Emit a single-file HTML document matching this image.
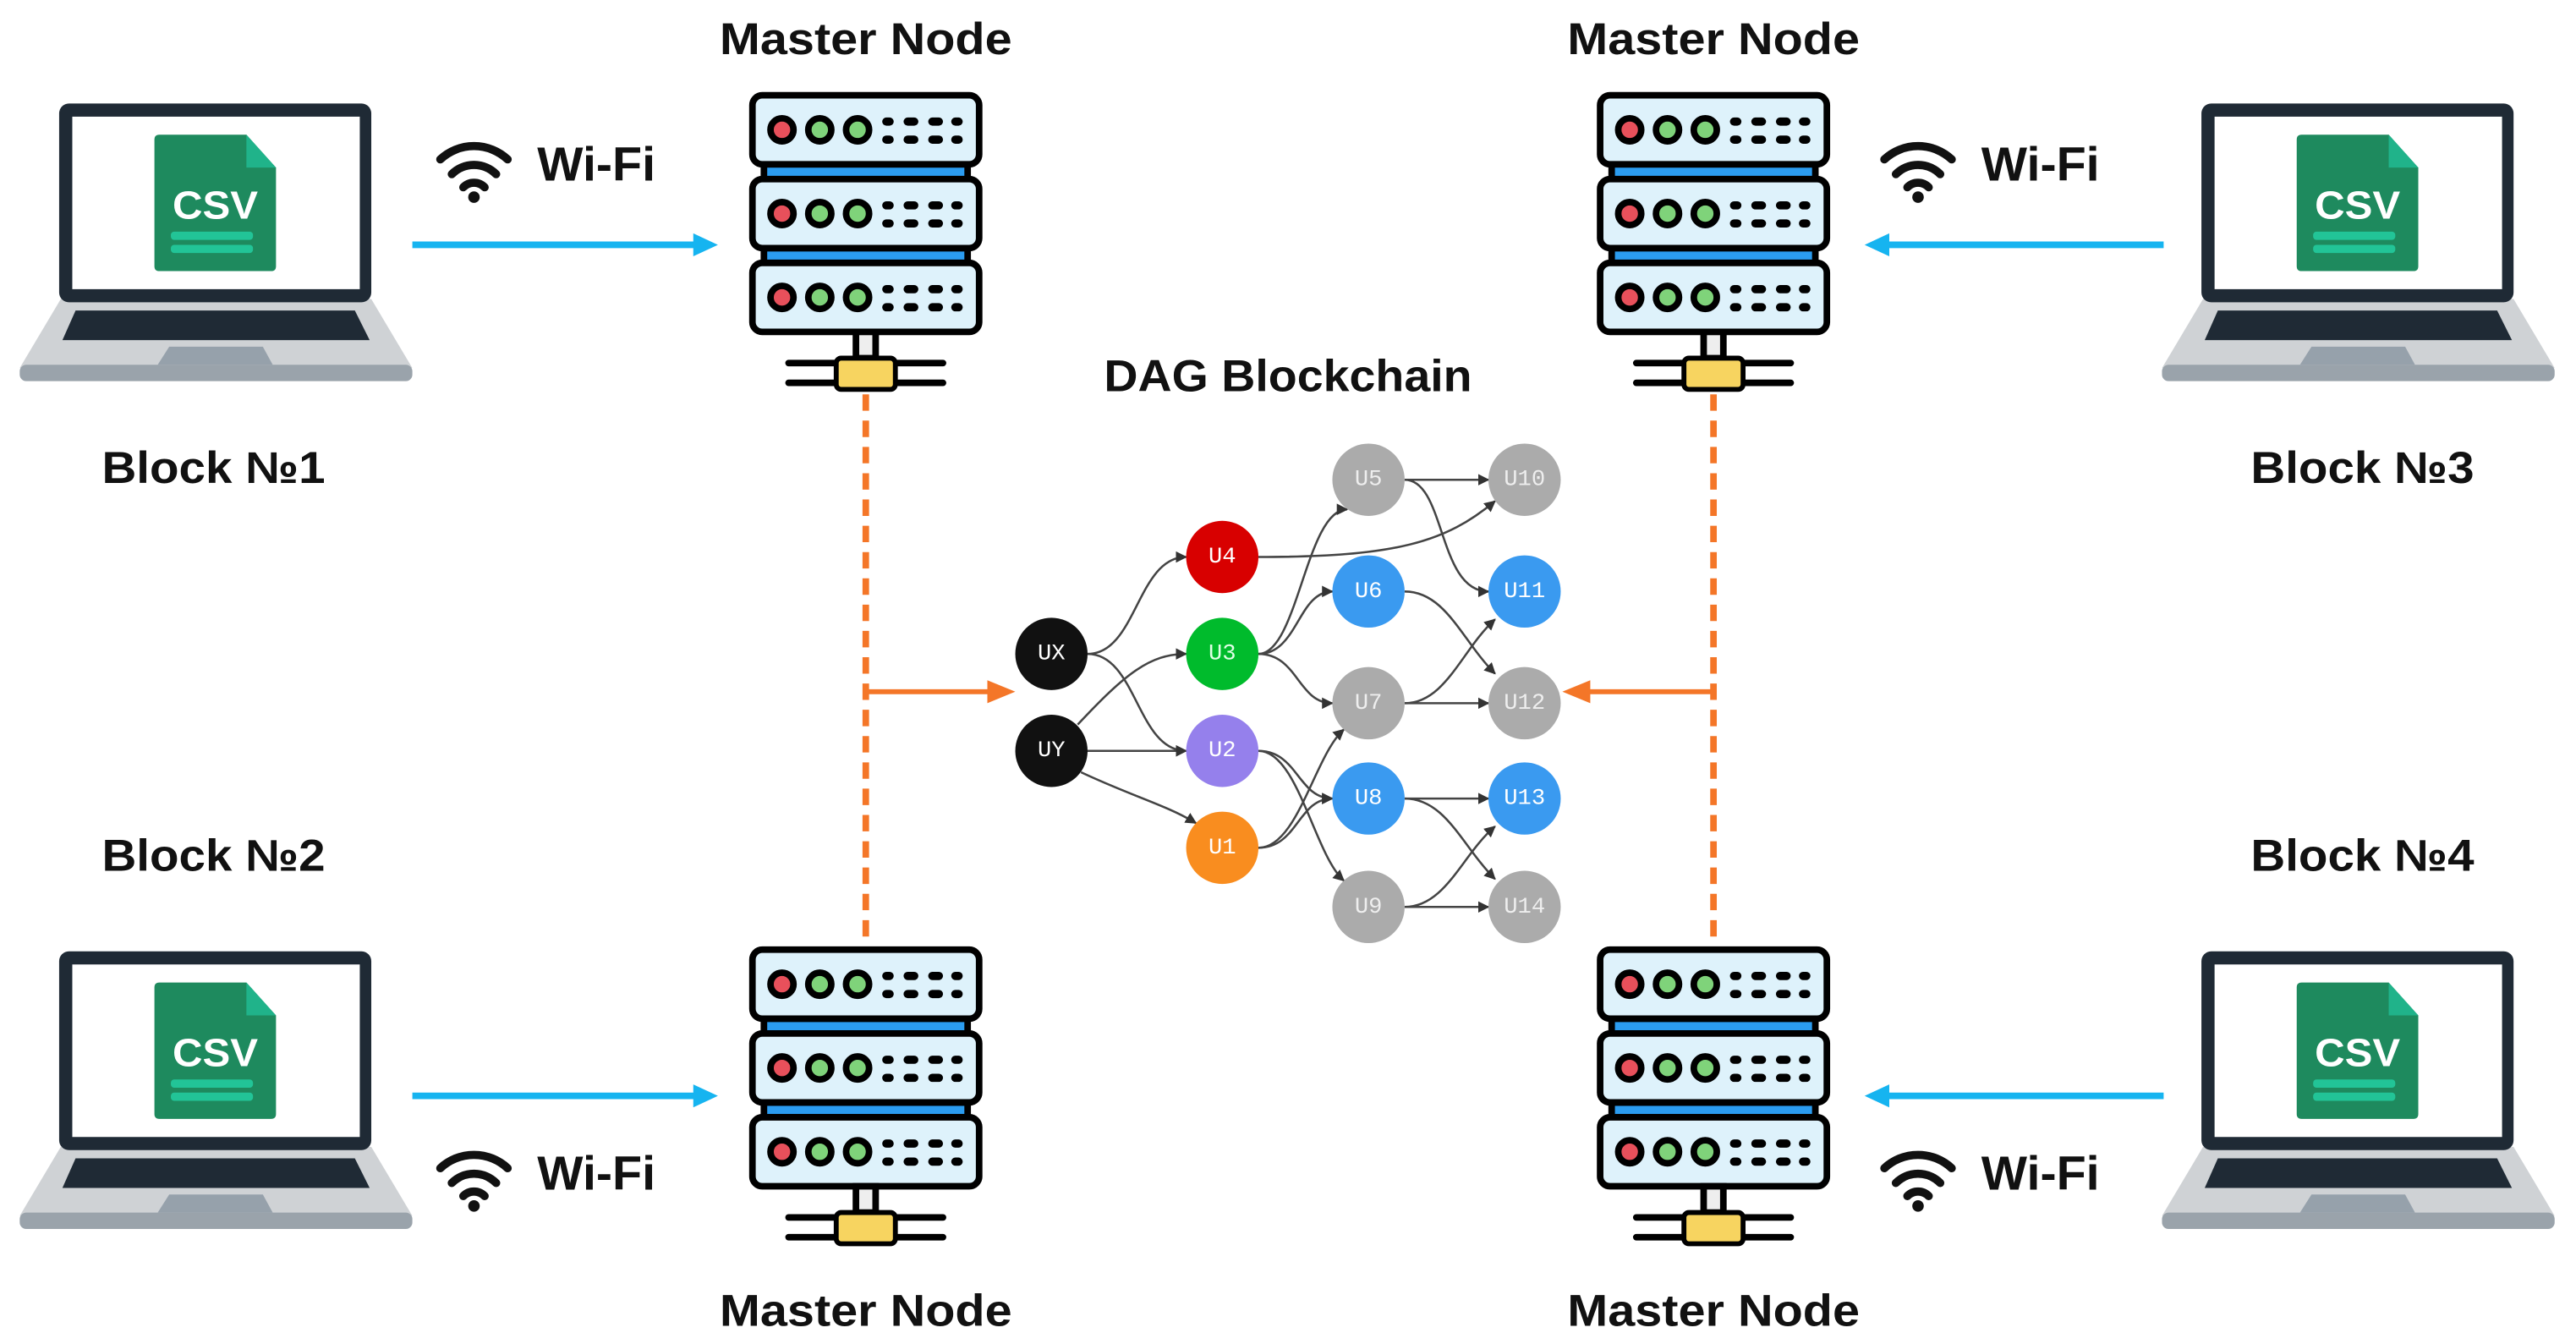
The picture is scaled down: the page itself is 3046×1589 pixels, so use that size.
<!DOCTYPE html>
<html><head><meta charset="utf-8"><style>
html,body{margin:0;padding:0;background:#fff;}
svg{display:block;}
.t{font-family:"Liberation Sans",sans-serif;font-weight:bold;fill:#111;}
.n{font-family:"Liberation Mono",monospace;font-size:14px;text-anchor:middle;dominant-baseline:central;}
</style></head><body>
<svg width="3046" height="1589" viewBox="0 0 1568 818" preserveAspectRatio="none" xmlns="http://www.w3.org/2000/svg">
<defs>
<marker id="ah" viewBox="0 0 10 10" refX="9" refY="5" markerWidth="7" markerHeight="7" markerUnits="userSpaceOnUse" orient="auto"><path d="M0,0 L10,5 L0,10 z" fill="#333"/></marker>
<g id="server">
  <g stroke="#000" stroke-width="4">
    <rect x="465" y="100" width="124" height="10" fill="#2b9cf0"/>
    <rect x="465" y="151" width="124" height="10" fill="#2b9cf0"/>
    <rect x="458" y="58" width="138" height="42" rx="6" fill="#def2fb"/>
    <rect x="458" y="109" width="138" height="42" rx="6" fill="#def2fb"/>
    <rect x="458" y="160" width="138" height="42" rx="6" fill="#def2fb"/>
    <rect x="521" y="202" width="12" height="16" fill="#eee"/>
  </g>
  <g fill="#000">
    <rect x="478" y="219" width="98" height="4" rx="2"/>
    <rect x="478" y="231" width="98" height="4" rx="2"/>
  </g>
  <rect x="509" y="218" width="36" height="19" rx="3" fill="#f7d460" stroke="#000" stroke-width="3"/>
  <g id="row">
    <circle cx="476" cy="79" r="7" fill="#e8505b" stroke="#000" stroke-width="4"/>
    <circle cx="499" cy="79" r="7" fill="#7fd37a" stroke="#000" stroke-width="4"/>
    <circle cx="522" cy="79" r="7" fill="#7fd37a" stroke="#000" stroke-width="4"/>
    <g fill="#000">
      <rect x="537" y="71.5" width="7" height="5" rx="2.5"/><rect x="550" y="71.5" width="9" height="5" rx="2.5"/><rect x="565" y="71.5" width="9" height="5" rx="2.5"/><rect x="579" y="71.5" width="7" height="5" rx="2.5"/>
      <rect x="537" y="82.5" width="7" height="5" rx="2.5"/><rect x="550" y="82.5" width="9" height="5" rx="2.5"/><rect x="565" y="82.5" width="9" height="5" rx="2.5"/><rect x="579" y="82.5" width="7" height="5" rx="2.5"/>
    </g>
  </g>
  <use href="#row" y="51"/>
  <use href="#row" y="102"/>
</g>
<g id="laptop">
  <path d="M37,182 L226,182 L251,224 L12,224 Z" fill="#cfd2d5"/>
  <rect x="12" y="222" width="239" height="10" rx="4" fill="#9aa3ab"/>
  <path d="M46,189 L216,189 L225,207 L38,207 Z" fill="#1f2a35"/>
  <path d="M103,211 L160,211 L166,222 L96,222 Z" fill="#96a1ab"/>
  <rect x="36" y="63" width="190" height="121" rx="6" fill="#1f2a35"/>
  <rect x="44" y="71" width="175" height="105" fill="#fff"/>
  <path d="M97,82 L150,82 L168,102 L168,162 Q168,165 165,165 L97,165 Q94,165 94,162 L94,85 Q94,82 97,82 Z" fill="#1e8a5e"/>
  <path d="M150,82 L168,102 L150,102 Z" fill="#20b38a"/>
  <rect x="104" y="141" width="50" height="5" rx="2" fill="#22c497"/>
  <rect x="104" y="149" width="50" height="5" rx="2" fill="#22c497"/>
</g>
<g id="wifi" fill="none" stroke="#111" stroke-width="5" stroke-linecap="round">
  <path d="M268,97 A30,30 0 0 1 309,97"/>
  <path d="M275,106 A19,19 0 0 1 302,106"/>
  <path d="M282,114 A9,9 0 0 1 295,114"/>
</g>
</defs>

<use href="#server"/>
<use href="#server" x="516"/>
<use href="#server" y="520"/>
<use href="#server" x="516" y="520"/>

<use href="#laptop"/>
<use href="#laptop" y="516"/>
<use href="#laptop" x="1304"/>
<use href="#laptop" x="1304" y="516"/>
<g class="t" style="font-size:24px;fill:#fff" text-anchor="middle">
  <text x="131" y="133" textLength="52" lengthAdjust="spacingAndGlyphs">CSV</text><text x="131" y="649" textLength="52" lengthAdjust="spacingAndGlyphs">CSV</text>
  <text x="1435" y="133" textLength="52" lengthAdjust="spacingAndGlyphs">CSV</text><text x="1435" y="649" textLength="52" lengthAdjust="spacingAndGlyphs">CSV</text>
</g>

<use href="#wifi"/><circle cx="288.5" cy="120" r="3.5" fill="#111"/>
<use href="#wifi" y="614"/><circle cx="288.5" cy="734" r="3.5" fill="#111"/>
<use href="#wifi" x="879"/><circle cx="1167.5" cy="120" r="3.5" fill="#111"/>
<use href="#wifi" x="879" y="614"/><circle cx="1167.5" cy="734" r="3.5" fill="#111"/>

<g class="t" style="font-size:27px" text-anchor="middle">
  <text x="527" y="33" textLength="178" lengthAdjust="spacingAndGlyphs">Master Node</text>
  <text x="1043" y="33" textLength="178" lengthAdjust="spacingAndGlyphs">Master Node</text>
  <text x="527" y="807" textLength="178" lengthAdjust="spacingAndGlyphs">Master Node</text>
  <text x="1043" y="807" textLength="178" lengthAdjust="spacingAndGlyphs">Master Node</text>
  <text x="130" y="294" textLength="136" lengthAdjust="spacingAndGlyphs">Block №1</text>
  <text x="130" y="530" textLength="136" lengthAdjust="spacingAndGlyphs">Block №2</text>
  <text x="1438" y="294" textLength="136" lengthAdjust="spacingAndGlyphs">Block №3</text>
  <text x="1438" y="530" textLength="136" lengthAdjust="spacingAndGlyphs">Block №4</text>
  <text x="784" y="238" textLength="224" lengthAdjust="spacingAndGlyphs">DAG Blockchain</text>
</g>
<g class="t" style="font-size:29px">
  <text x="327" y="110" textLength="72" lengthAdjust="spacingAndGlyphs">Wi-Fi</text>
  <text x="327" y="724" textLength="72" lengthAdjust="spacingAndGlyphs">Wi-Fi</text>
  <text x="1206" y="110" textLength="72" lengthAdjust="spacingAndGlyphs">Wi-Fi</text>
  <text x="1206" y="724" textLength="72" lengthAdjust="spacingAndGlyphs">Wi-Fi</text>
</g>

<g stroke="#16b4f0" stroke-width="4" fill="#16b4f0">
  <line x1="251" y1="149" x2="425" y2="149"/><path d="M437,149 L422,142 L422,156 Z" stroke="none"/>
  <line x1="251" y1="667" x2="425" y2="667"/><path d="M437,667 L422,660 L422,674 Z" stroke="none"/>
  <line x1="1317" y1="149" x2="1147" y2="149"/><path d="M1135,149 L1150,142 L1150,156 Z" stroke="none"/>
  <line x1="1317" y1="667" x2="1147" y2="667"/><path d="M1135,667 L1150,660 L1150,674 Z" stroke="none"/>
</g>

<g stroke="#f47628" fill="none">
  <line x1="527" y1="240" x2="527" y2="576" stroke-width="4" stroke-dasharray="10,6"/>
  <line x1="1043" y1="240" x2="1043" y2="576" stroke-width="4" stroke-dasharray="10,6"/>
  <line x1="527" y1="421" x2="604" y2="421" stroke-width="3"/>
  <line x1="1043" y1="421" x2="965" y2="421" stroke-width="3"/>
</g>
<path d="M618,421 L601,414 L601,428 Z" fill="#f47628"/>
<path d="M951,421 L968,414 L968,428 Z" fill="#f47628"/>

<g fill="none" stroke="#444" stroke-width="1.3" marker-end="url(#ah)">
  <path d="M662,398 C692,398 692,339 722,339"/>
  <path d="M662,398 C692,398 692,457 722,457"/>
  <path d="M656,441 C685,410 700,398 722,398"/>
  <path d="M662,457 L722,457"/>
  <path d="M658,470 C690,485 710,490 728,501"/>
  <path d="M766,339 C850,339 880,330 910,305"/>
  <path d="M766,398 C790,398 795,310 820,310"/>
  <path d="M766,398 C790,398 790,360 811,360"/>
  <path d="M766,398 C790,398 790,428 811,428"/>
  <path d="M766,457 C790,457 790,486 811,486"/>
  <path d="M766,457 C790,457 800,520 818,536"/>
  <path d="M766,516 C790,516 800,460 818,444"/>
  <path d="M766,516 C790,516 790,486 811,486"/>
  <path d="M855,292 L906,292"/>
  <path d="M855,292 C880,292 875,360 906,360"/>
  <path d="M855,360 C880,360 890,390 910,410"/>
  <path d="M855,428 C880,428 890,395 910,377"/>
  <path d="M855,428 L906,428"/>
  <path d="M855,486 L906,486"/>
  <path d="M855,486 C880,486 890,515 910,535"/>
  <path d="M855,552 C880,552 890,520 910,503"/>
  <path d="M855,552 L906,552"/>
</g>

<g>
  <circle cx="640" cy="398" r="22" fill="#111"/><text class="n" x="640" y="398" fill="#fff">UX</text>
  <circle cx="640" cy="457" r="22" fill="#111"/><text class="n" x="640" y="457" fill="#fff">UY</text>
  <circle cx="744" cy="339" r="22" fill="#d80000"/><text class="n" x="744" y="339" fill="#fff">U4</text>
  <circle cx="744" cy="398" r="22" fill="#00bb2c"/><text class="n" x="744" y="398" fill="#dfffe6">U3</text>
  <circle cx="744" cy="457" r="22" fill="#9580ec"/><text class="n" x="744" y="457" fill="#fff">U2</text>
  <circle cx="744" cy="516" r="22" fill="#f98d1f"/><text class="n" x="744" y="516" fill="#fff">U1</text>
  <circle cx="833" cy="292" r="22" fill="#ababab"/><text class="n" x="833" y="292" fill="#eee">U5</text>
  <circle cx="833" cy="360" r="22" fill="#3a9af0"/><text class="n" x="833" y="360" fill="#fff">U6</text>
  <circle cx="833" cy="428" r="22" fill="#ababab"/><text class="n" x="833" y="428" fill="#eee">U7</text>
  <circle cx="833" cy="486" r="22" fill="#3a9af0"/><text class="n" x="833" y="486" fill="#fff">U8</text>
  <circle cx="833" cy="552" r="22" fill="#ababab"/><text class="n" x="833" y="552" fill="#eee">U9</text>
  <circle cx="928" cy="292" r="22" fill="#ababab"/><text class="n" x="928" y="292" fill="#eee">U10</text>
  <circle cx="928" cy="360" r="22" fill="#3a9af0"/><text class="n" x="928" y="360" fill="#fff">U11</text>
  <circle cx="928" cy="428" r="22" fill="#ababab"/><text class="n" x="928" y="428" fill="#eee">U12</text>
  <circle cx="928" cy="486" r="22" fill="#3a9af0"/><text class="n" x="928" y="486" fill="#fff">U13</text>
  <circle cx="928" cy="552" r="22" fill="#ababab"/><text class="n" x="928" y="552" fill="#eee">U14</text>
</g>
</svg>
</body></html>
